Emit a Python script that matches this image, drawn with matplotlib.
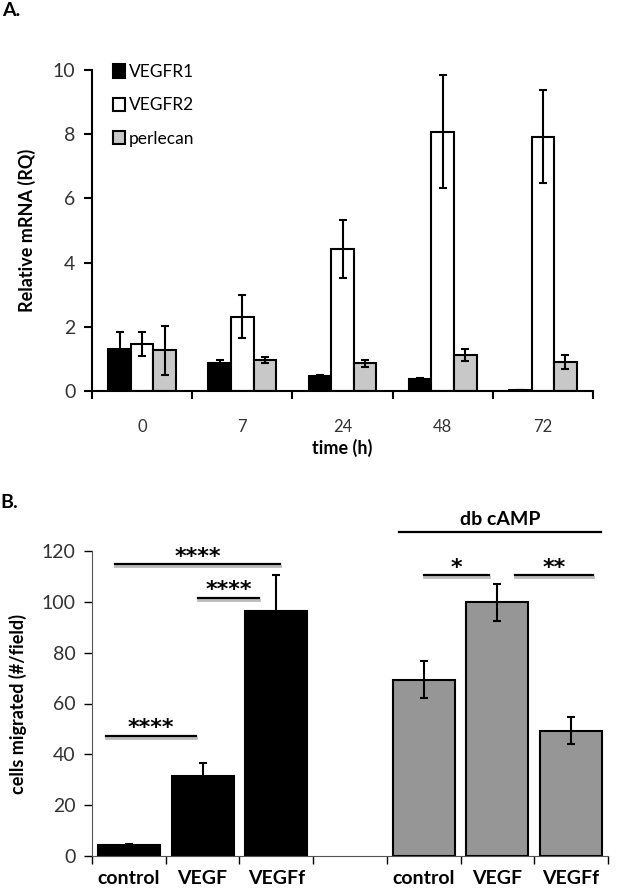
import numpy as np
import matplotlib
matplotlib.use('Agg')
import matplotlib.pyplot as plt

plt.rcParams['font.family'] = ['Lato', 'DejaVu Sans']

# Painel A - mRNA relativo
tempos = ['0', '7', '24', '48', '72']
vegfr1 = [1.30, 0.88, 0.47, 0.36, 0.02]
vegfr1_err = [0.55, 0.10, 0.03, 0.04, 0.0]
vegfr2 = [1.46, 2.32, 4.42, 8.08, 7.92]
vegfr2_err = [0.37, 0.67, 0.91, 1.75, 1.45]
perlecan = [1.27, 0.96, 0.86, 1.11, 0.90]
perlecan_err = [0.76, 0.09, 0.11, 0.19, 0.21]

# Painel B - migração celular
grupos = ['control', 'VEGF', 'VEGFf', '', 'control', 'VEGF', 'VEGFf']
sem_camp = [4.2, 31.6, 96.4]
sem_camp_err = [0.7, 5.0, 14.0]
com_camp = [69.4, 99.8, 49.3]
com_camp_err = [7.2, 7.4, 5.2]

# linhas de significancia: (x inicio, x fim, y, texto)
signif = [(-0.19, 2.05, 114.8, '****'),
          (0.94, 1.77, 101.6, '****'),
          (-0.31, 0.91, 47.3, '****'),
          (4.0, 4.89, 110.5, '*'),
          (5.24, 6.30, 110.5, '**')]

cinza_txt = '#333333'
fig = plt.figure(figsize=(6.2, 8.9), dpi=100)

# ---------- Painel A ----------
ax1 = fig.add_axes([92/620, 1-391/890, 501/620, 321/890])
x = np.arange(len(tempos))
w = 0.225
err_kw = dict(ecolor='black', elinewidth=1.5, capsize=3.2, capthick=1.5)
ax1.bar(x - w, vegfr1, w, yerr=vegfr1_err, color='black', edgecolor='black',
        linewidth=1.5, label='VEGFR1', error_kw=err_kw)
ax1.bar(x, vegfr2, w, yerr=vegfr2_err, color='white', edgecolor='black',
        linewidth=1.5, label='VEGFR2', error_kw=err_kw)
ax1.bar(x + w, perlecan, w, yerr=perlecan_err, color='#c8c8c8', edgecolor='black',
        linewidth=1.5, label='perlecan', error_kw=err_kw)
ax1.set_xlim(-0.5, len(tempos) - 0.5)
ax1.set_ylim(0, 10)
ax1.set_yticks(np.arange(0, 11, 2))
ax1.set_xticks(np.arange(-0.5, len(tempos), 1))
ax1.set_xticklabels([])
ax1.set_xticks(x, minor=True)
ax1.set_xticklabels(tempos, minor=True)
ax1.tick_params(axis='x', which='minor', length=0, pad=20, labelsize=12, labelcolor=cinza_txt)
ax1.tick_params(axis='x', which='major', direction='out', length=6, width=1.5)
ax1.tick_params(axis='y', direction='out', length=6, width=1.5, labelsize=14, pad=6,
                labelcolor=cinza_txt)
for s in ['top', 'right']:
    ax1.spines[s].set_visible(False)
for s in ['left', 'bottom']:
    ax1.spines[s].set_linewidth(1.5)
ax1.set_ylabel('Relative mRNA (RQ)', fontsize=13, fontweight='bold', labelpad=12)
ax1.set_xlabel('time (h)', fontsize=13, fontweight='bold', labelpad=3)
ax1.legend(loc='upper left', bbox_to_anchor=((113-92)/501, (391-64)/321),
           frameon=False, fontsize=12.5, handlelength=0.7, handleheight=0.8,
           handletextpad=0.2, labelspacing=1.0, borderpad=0, borderaxespad=0)

# ---------- Painel B ----------
ax2 = fig.add_axes([92/620, 1-856/890, 516/620, 305/890])
xb = np.arange(len(grupos))
wb = 0.84
ax2.bar(xb[:3], sem_camp, wb, yerr=sem_camp_err, color='black', edgecolor='black',
        linewidth=1.5, error_kw=err_kw)
ax2.bar(xb[4:], com_camp, wb, yerr=com_camp_err, color='#969696', edgecolor='black',
        linewidth=1.5, error_kw=err_kw)
ax2.set_xlim(-0.5, len(grupos) - 0.5)
ax2.set_ylim(0, 120)
ax2.set_yticks(np.arange(0, 121, 20))
ax2.set_xticks(np.arange(-0.5, len(grupos), 1))
ax2.set_xticklabels([])
ax2.set_xticks(xb, minor=True)
ax2.set_xticklabels(grupos, minor=True, fontweight='bold')
ax2.tick_params(axis='x', which='minor', length=0, pad=10, labelsize=14)
ax2.tick_params(axis='x', which='major', direction='out', length=6, width=1)
ax2.tick_params(axis='y', direction='out', length=6, width=1, labelsize=14, pad=6,
                labelcolor=cinza_txt)
for s in ['top', 'right']:
    ax2.spines[s].set_visible(False)
ax2.spines['left'].set_color('#555555')
ax2.spines['bottom'].set_color('#555555')
ax2.set_ylabel('cells migrated (#/field)', fontsize=13, fontweight='bold', labelpad=10)

for x0, x1, y, txt in signif:
    ax2.plot([x0, x1], [y - 0.8, y - 0.8], color='#bbbbbb', lw=2, clip_on=False)
    ax2.plot([x0, x1], [y, y], color='black', lw=1.6, clip_on=False)
    ax2.text((x0 + x1) / 2, y - 1.0, txt, ha='center', va='bottom', fontsize=16,
             fontweight='bold', family='DejaVu Sans')

# db cAMP
ax2.plot([3.67, 6.41], [127.6, 127.6], color='black', lw=1.6, clip_on=False)
ax2.text(5.04, 129, 'db cAMP', ha='center', va='bottom', fontsize=14, fontweight='bold')

fig.text(2/620, 1-11/890, 'A.', fontsize=14, fontweight='bold', va='center', ha='left')
fig.text(0/620, 1-502/890, 'B.', fontsize=14, fontweight='bold', va='center', ha='left')

plt.savefig('out.png', dpi=100)
